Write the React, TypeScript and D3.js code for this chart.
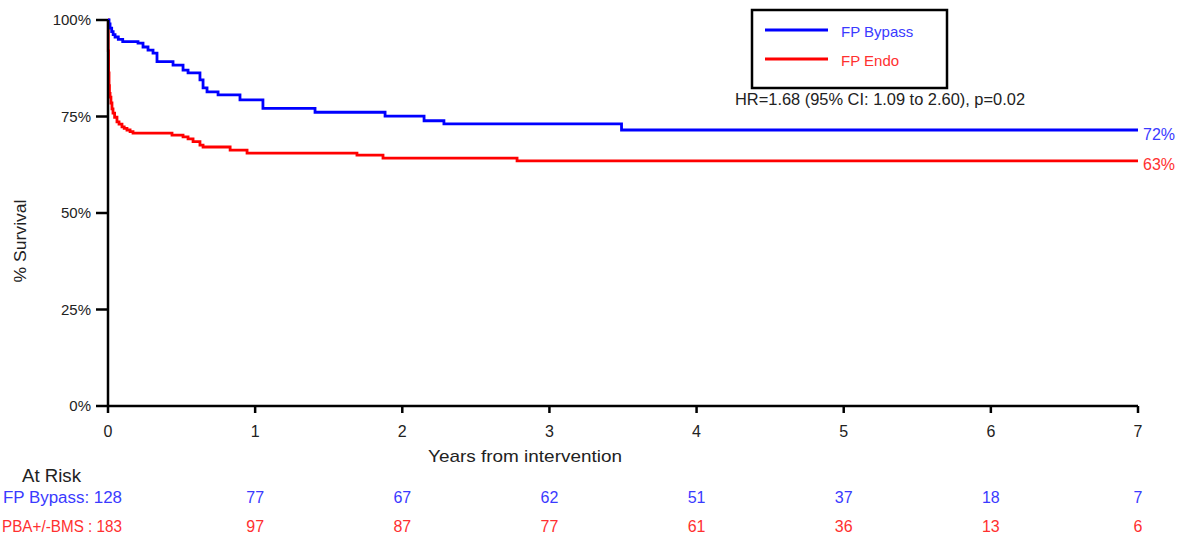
import React from "react";
import * as d3 from "d3";

const W = 1182;
const H = 539;

// Kaplan-Meier step data (years, % survival)
const bypassTimes = [0, 0.007, 0.014, 0.025, 0.035, 0.048, 0.07, 0.1, 0.204, 0.238, 0.272, 0.306, 0.333, 0.442, 0.51, 0.544, 0.625, 0.646, 0.673, 0.748, 0.897, 1.053, 1.407, 1.883, 2.148, 2.283, 3.49, 7];
const bypassSurv = [100, 99, 97.9, 97, 96.2, 95.6, 95, 94.4, 94.0, 93.0, 92.2, 91.4, 89.2, 88.3, 87.0, 86.3, 84.5, 82.4, 81.4, 80.6, 79.3, 77.1, 76.1, 75.1, 73.9, 73.1, 71.5, 71.5];

const endoTimes = [0, 0.002, 0.004, 0.007, 0.01, 0.014, 0.02, 0.027, 0.034, 0.045, 0.061, 0.075, 0.095, 0.11, 0.129, 0.15, 0.17, 0.435, 0.51, 0.544, 0.578, 0.625, 0.646, 0.83, 0.945, 1.692, 1.869, 2.78, 7];
const endoSurv = [100, 92, 86.3, 83, 81, 80, 78.5, 77, 75.9, 74.8, 73.6, 73, 72.3, 71.9, 71.5, 71.1, 70.7, 70.2, 69.7, 69.2, 68.5, 67.6, 67.1, 66.3, 65.5, 65.0, 64.2, 63.5, 63.5];

const xTicks = [0, 1, 2, 3, 4, 5, 6, 7];
const yTicks = [0, 25, 50, 75, 100];
const bypassAtRisk = [128, 77, 67, 62, 51, 37, 18, 7];
const endoAtRisk = [183, 97, 87, 77, 61, 36, 13, 6];

const seriesNames = ["FP Bypass", "FP Endo"];
const rowLabels = ["FP Bypass: ", "PBA+/-BMS : "];
const endLabels = ["72%", "63%"];
const hrText = "HR=1.68 (95% CI: 1.09 to 2.60), p=0.02";

const BLUE = "#0000ff";
const RED = "#ff0000";
const BLUE_T = "#3a3aff";
const RED_T = "#ff3030";
const FONT = "'Liberation Sans', Arial, sans-serif";

export default function App() {
  const x = d3.scaleLinear().domain([0, 7]).range([108, 1138]);
  const y = d3.scaleLinear().domain([0, 100]).range([406, 20]);

  const line = d3
    .line<[number, number]>()
    .x((d) => x(d[0]))
    .y((d) => y(d[1]))
    .curve(d3.curveStepAfter);

  const bypassPts: [number, number][] = bypassTimes.map((t, i) => [t, bypassSurv[i]]);
  const endoPts: [number, number][] = endoTimes.map((t, i) => [t, endoSurv[i]]);

  const blueRow = `${rowLabels[0]}${bypassAtRisk[0]}`;
  const redRow = `${rowLabels[1]}${endoAtRisk[0]}`;

  return (
    <svg
      width={W}
      height={H}
      style={{ position: "absolute", left: 0, top: 0, display: "block", background: "#fff" }}
      fontFamily={FONT}
    >
      <rect x={0} y={0} width={W} height={H} fill="#fff" />

      {/* curves */}
      <path d={line(endoPts) || ""} fill="none" stroke={RED} strokeWidth={2.8} />
      <path d={line(bypassPts) || ""} fill="none" stroke={BLUE} strokeWidth={2.8} />

      {/* axes */}
      <line x1={x(0)} x2={x(0)} y1={y(100)} y2={y(0)} stroke="#000" strokeWidth={2.5} />
      <line x1={x(0)} x2={x(7)} y1={y(0)} y2={y(0)} stroke="#000" strokeWidth={2.5} />
      {yTicks.map((t) => (
        <g key={"y" + t}>
          <line x1={x(0) - 12} x2={x(0)} y1={y(t)} y2={y(t)} stroke="#000" strokeWidth={2.5} />
          <text x={x(0) - 17} y={y(t)} dy="0.36em" textAnchor="end" fontSize={15} fill="#222">
            {`${t}%`}
          </text>
        </g>
      ))}
      {xTicks.map((t) => (
        <g key={"x" + t}>
          <line x1={x(t)} x2={x(t)} y1={y(0)} y2={y(0) + 7} stroke="#000" strokeWidth={2.5} />
          <text x={x(t)} y={y(0) + 31} textAnchor="middle" fontSize={16} fill="#222">
            {t}
          </text>
        </g>
      ))}
      <text x={525} y={462} textAnchor="middle" fontSize={17} fill="#222" textLength={194} lengthAdjust="spacingAndGlyphs">
        Years from intervention
      </text>
      <text
        transform={`translate(26,${y(50) + 28}) rotate(-90)`}
        textAnchor="middle"
        fontSize={17}
        fill="#222"
        textLength={83}
        lengthAdjust="spacingAndGlyphs"
      >
        % Survival
      </text>

      {/* end labels */}
      <text x={x(7) + 5} y={y(bypassSurv[bypassSurv.length - 1]) + 9.5} fontSize={16} fill={BLUE_T}>
        {endLabels[0]}
      </text>
      <text x={x(7) + 5} y={y(endoSurv[endoSurv.length - 1]) + 9} fontSize={16} fill={RED_T}>
        {endLabels[1]}
      </text>

      {/* legend */}
      <rect x={752} y={10} width={195} height={78} fill="#fff" stroke="#000" strokeWidth={2.5} />
      <line x1={765} x2={828} y1={30} y2={30} stroke={BLUE} strokeWidth={2.8} />
      <line x1={765} x2={828} y1={59} y2={59} stroke={RED} strokeWidth={2.8} />
      <text x={841} y={37} fontSize={15} fill={BLUE_T}>
        {seriesNames[0]}
      </text>
      <text x={841} y={66} fontSize={15} fill={RED_T}>
        {seriesNames[1]}
      </text>
      <text x={880} y={105} textAnchor="middle" fontSize={16} fill="#222" textLength={290} lengthAdjust="spacingAndGlyphs">
        {hrText}
      </text>

      {/* at risk table */}
      <text x={22} y={482} fontSize={18} fill="#222" textLength={59} lengthAdjust="spacingAndGlyphs">
        At Risk
      </text>
      <text x={3} y={503} fontSize={16} fill={BLUE_T} textLength={119} lengthAdjust="spacingAndGlyphs">
        {blueRow}
      </text>
      <text x={2} y={532} fontSize={16} fill={RED_T} textLength={120} lengthAdjust="spacingAndGlyphs">
        {redRow}
      </text>
      {xTicks.slice(1).map((t, i) => (
        <g key={"r" + t}>
          <text x={x(t)} y={503} textAnchor="middle" fontSize={16} fill={BLUE_T}>
            {bypassAtRisk[i + 1]}
          </text>
          <text x={x(t)} y={532} textAnchor="middle" fontSize={16} fill={RED_T}>
            {endoAtRisk[i + 1]}
          </text>
        </g>
      ))}
    </svg>
  );
}
